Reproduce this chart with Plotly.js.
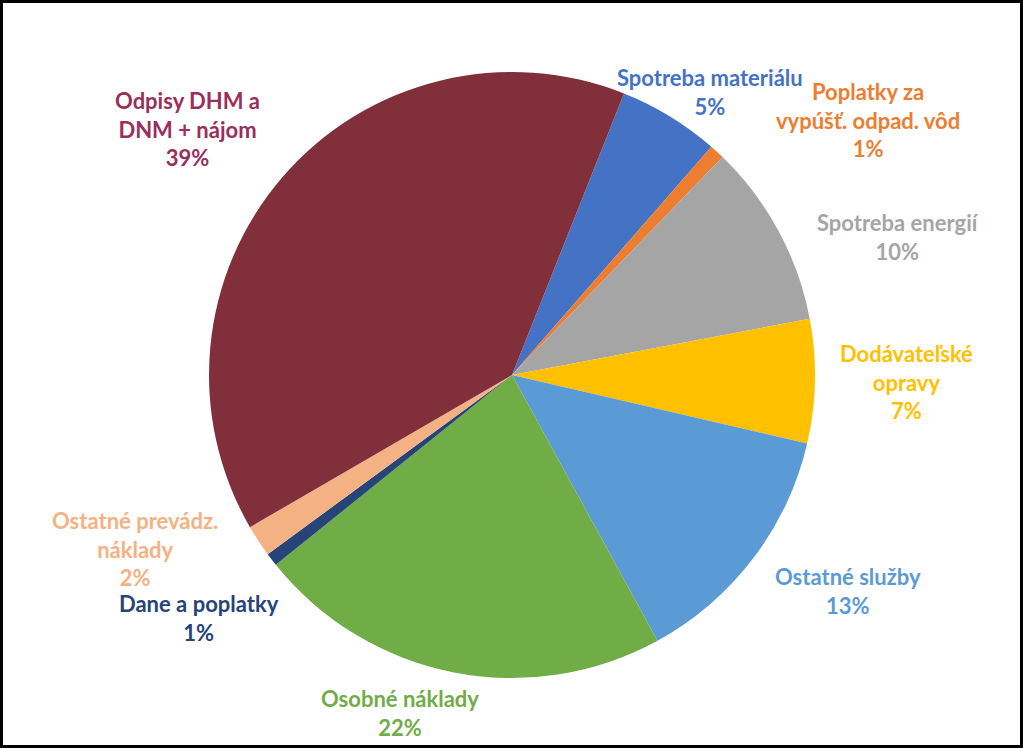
<!DOCTYPE html>
<html>
<head>
<meta charset="utf-8">
<script src="https://cdn.plot.ly/plotly-3.0.1.min.js"></script>
<style>
  html, body { margin: 0; padding: 0; background: #fff; }
  #wrap { position: relative; width: 1023px; height: 748px; }
  #chart { width: 1023px; height: 748px; }
  #frame { position: absolute; left: 0; top: 0; width: 1023px; height: 748px;
           box-sizing: border-box; border: 3px solid #000; pointer-events: none; }
</style>
</head>
<body>
<div id="wrap"><div id="chart"></div><div id="frame"></div></div>
<script>
// Data
const categories = [
  "Spotreba materiálu",
  "Poplatky za<br>vypúšť. odpad. vôd",
  "Spotreba energií",
  "Dodávateľské<br>opravy",
  "Ostatné služby",
  "Osobné náklady",
  "Dane a poplatky",
  "Ostatné prevádz.<br>náklady",
  "Odpisy DHM a<br>DNM + nájom"
];
const values = [5.4, 0.8, 9.8, 6.6, 13.4, 22.2, 0.7, 1.7, 39.4];
const sliceColors = ["#4472C4", "#ED7D31", "#A5A5A5", "#FFC000", "#5B9BD5",
                     "#70AD47", "#264478", "#F4B183", "#812F3B"];
const labelColors = ["#4472C4", "#ED7D31", "#A5A5A5", "#FFC000", "#5B9BD5",
                     "#70AD47", "#264478", "#F4B183", "#9A2E5C"];
// Label centre positions in pixels (layout only)
const labelPos = [[710, 92], [868, 120], [898, 237], [906, 382], [848, 591],
                  [400, 713], [199, 618], [135, 549], [187, 129]];

const W = 1023, H = 748;
const total = values.reduce((a, b) => a + b, 0);

const trace = {
  type: "pie",
  labels: categories,
  values: values,
  sort: false,
  direction: "clockwise",
  rotation: 21.7,
  textinfo: "none",
  hoverinfo: "label+percent",
  marker: { colors: sliceColors, line: { width: 0 } },
  domain: { x: [209 / W, 815 / W], y: [1 - 678 / H, 1 - 72 / H] },
  showlegend: false
};

const annotations = categories.map((c, i) => ({
  xref: "paper", yref: "paper",
  x: labelPos[i][0] / W, y: 1 - labelPos[i][1] / H,
  xanchor: "center", yanchor: "middle", align: "center",
  showarrow: false,
  text: "<b>" + c + "<br>" + Math.round(values[i] / total * 100) + "%</b>",
  font: { family: "Lato, 'Open Sans', sans-serif", size: 22, color: labelColors[i] }
}));

const layout = {
  width: W, height: H,
  margin: { l: 0, r: 0, t: 0, b: 0 },
  paper_bgcolor: "#fff",
  annotations: annotations
};

Plotly.newPlot("chart", [trace], layout, { displayModeBar: false, staticPlot: true });
</script>
</body>
</html>
